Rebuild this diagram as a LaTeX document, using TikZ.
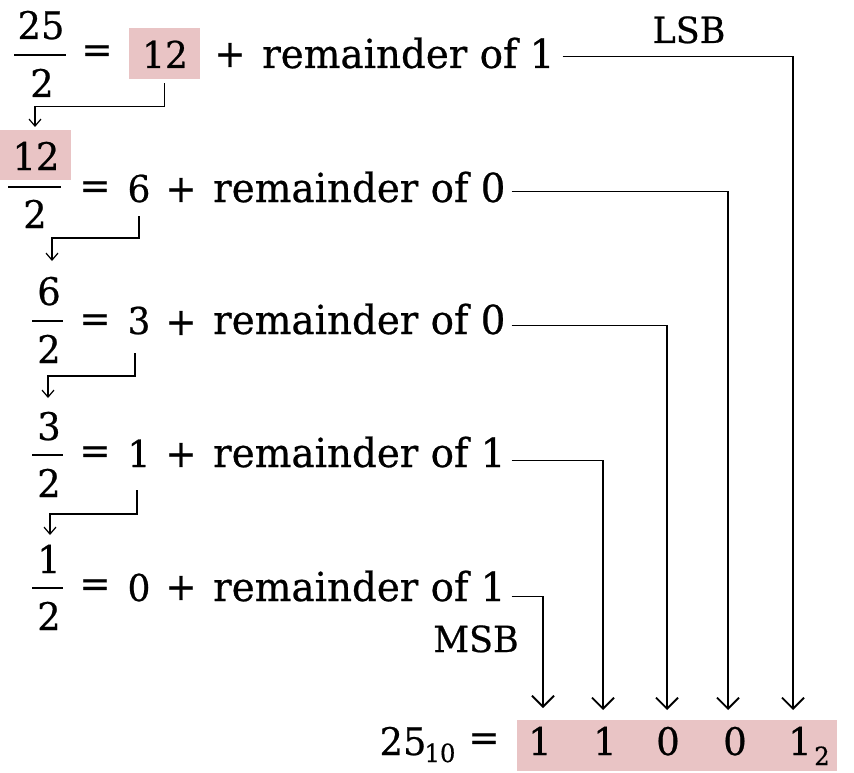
\documentclass[tikz,border=0pt]{standalone}
\usepackage{fontspec}
\setmainfont{DejaVu Serif}[FakeStretch=0.97,FakeBold=0.6]
\usetikzlibrary{arrows.meta}
\definecolor{boxpink}{RGB}{233,196,197}
\begin{document}
\begin{tikzpicture}[x=1pt,y=-1pt,
  txt/.style={inner sep=0pt,anchor=base,font=\fontsize{38}{40}\selectfont},
  eqn/.style={inner sep=0pt,anchor=base,font=\fontsize{37}{40}\selectfont},
  eqc/.style={inner sep=0pt,anchor=center,font=\fontsize{38}{40}\selectfont},
  word/.style={inner sep=0pt,anchor=base west,font=\fontsize{40}{44}\selectfont},
  lbl/.style={inner sep=0pt,anchor=base,font=\fontsize{36}{40}\selectfont},
  subs/.style={inner sep=0pt,anchor=base,font=\fontsize{25}{28}\selectfont},
  hl/.style={fill=boxpink,inner sep=0pt},
  fbar/.style={line width=2pt},
  lconn/.style={line width=1.2pt,-{Straight Barb[length=7pt,width=12pt]}},
  rconn/.style={line width=1.8pt,-{Straight Barb[length=11pt,width=22pt]}},
]
\useasboundingbox (0,0) rectangle (854,773);
% pink boxes
\node[hl,minimum width=71pt,minimum height=51pt] (box1) at (164.5,53.5) {};
\node[hl,minimum width=71pt,minimum height=50pt] (box2) at (35.5,155) {};
\node[hl,minimum width=320pt,minimum height=51pt] (bits) at (677,745.5) {};
% row 1
\node[txt] (n1) at (41,39) {25};
\draw[fbar] (14,55) -- (66,55);
\node[txt] (d1) at (42,97) {2};
\node[eqc] (e1) at (97,54) {=};
\node[eqn] (q1) at (165,68) {12};
\node[eqc] (p1) at (230,55) {+};
\node[word] (r1) at (262,68) {remainder of 1};
% row 2
\node[txt] (n2) at (36,170) {12};
\draw[fbar] (8,187) -- (61,187);
\node[txt] (d2) at (35,228) {2};
\node[eqc] (e2) at (95,190) {=};
\node[eqn] (q2) at (139,202) {6};
\node[eqc] (p2) at (181,190) {+};
\node[word] (r2) at (213,202) {remainder of 0};
% row 3
\node[txt] (n3) at (49,305) {6};
\draw[fbar] (32,321) -- (63,321);
\node[txt] (d3) at (49,363) {2};
\node[eqc] (e3) at (95,323) {=};
\node[eqn] (q3) at (139,334) {3};
\node[eqc] (p3) at (181,323) {+};
\node[word] (r3) at (213,334) {remainder of 0};
% row 4
\node[txt] (n4) at (49,440) {3};
\draw[fbar] (32,455) -- (63,455);
\node[txt] (d4) at (49,497) {2};
\node[eqc] (e4) at (95,455) {=};
\node[eqn] (q4) at (139,467) {1};
\node[eqc] (p4) at (181,455) {+};
\node[word] (r4) at (213,467) {remainder of 1};
% row 5
\node[txt] (n5) at (49,573) {1};
\draw[fbar] (32,588) -- (63,588);
\node[txt] (d5) at (49,630) {2};
\node[eqc] (e5) at (95,588) {=};
\node[eqn] (q5) at (139,601) {0};
\node[eqc] (p5) at (181,588) {+};
\node[word] (r5) at (213,601) {remainder of 1};
% labels
\node[lbl] (lsb) at (689,43) {LSB};
\node[lbl] (msb) at (476,652) {MSB};
% bottom result
\node[txt] (dec) at (403,755) {25};
\node[subs] (ten) at (440,762) {10};
\node[eqc] (eqb) at (484,742) {=};
\node[txt] (b1) at (540,755) {1};
\node[txt] (b2) at (605,755) {1};
\node[txt] (b3) at (668,755) {0};
\node[txt] (b4) at (735,755) {0};
\node[txt] (b5) at (800,755) {1};
\node[subs] (two) at (822,765) {2};
% tips
\coordinate (t1) at (543,708);
\coordinate (t2) at (603,710);
\coordinate (t3) at (667,710);
\coordinate (t4) at (728,710);
\coordinate (t5) at (793,710);
\coordinate (tl1) at (35,127);
\coordinate (tl2) at (52,261);
\coordinate (tl3) at (48,398);
\coordinate (tl4) at (50,535);
% left connectors
\draw[lconn] ([yshift=-4pt]box1.south) -- ++(0,23) -| (tl1);
\draw[lconn] ([yshift=-14pt]q2.base) -- ++(0,22) -| (tl2);
\draw[lconn] ([xshift=-4pt,yshift=-19pt]q3.base) -- ++(0,23) -| (tl3);
\draw[lconn] ([xshift=-2pt,yshift=-23pt]q4.base) -- ++(0,24) -| (tl4);
% right connectors
\draw[rconn] ([xshift=8pt,yshift=9pt]r1.mid east) -| (t5);
\draw[rconn] ([xshift=6pt,yshift=8pt]r2.mid east) -| (t4);
\draw[rconn] ([xshift=6pt,yshift=6pt]r3.mid east) -| (t3);
\draw[rconn] ([xshift=6pt,yshift=4pt]r4.mid east) -| (t2);
\draw[rconn] ([xshift=6pt,yshift=2pt]r5.mid east) -| (t1);
\end{tikzpicture}
\end{document}
